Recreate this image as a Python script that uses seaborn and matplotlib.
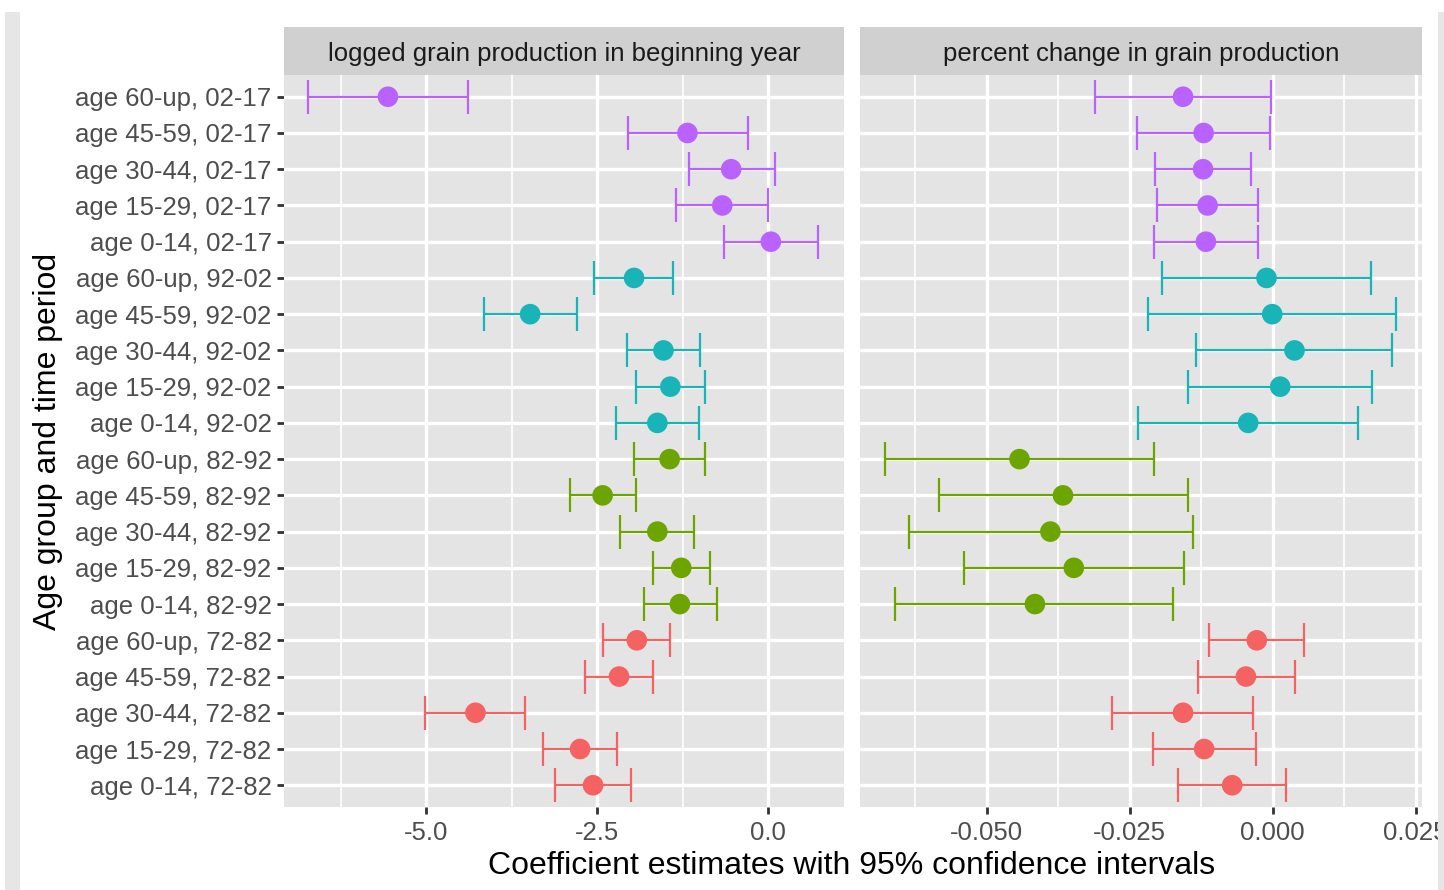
import numpy as np
import pandas as pd
import matplotlib
matplotlib.use("Agg")
import matplotlib.pyplot as plt
import seaborn as sns
from matplotlib.patches import Rectangle

# ---------------- data ----------------
ages = ["age 60-up", "age 45-59", "age 30-44", "age 15-29", "age 0-14"]
periods = ["02-17", "92-02", "82-92", "72-82"]  # top to bottom
labels = [f"{a}, {p}" for p in periods for a in ages]
period_of_row = [p for p in periods for a in ages]

# panel 1: logged grain production in beginning year
log_est = [-5.56, -1.18, -0.54, -0.67, 0.04,
           -1.96, -3.48, -1.53, -1.43, -1.62,
           -1.44, -2.42, -1.62, -1.27, -1.29,
           -1.92, -2.18, -4.28, -2.75, -2.56]
log_lo = [-6.73, -2.05, -1.16, -1.34, -0.64,
          -2.54, -4.16, -2.07, -1.93, -2.22,
          -1.96, -2.89, -2.17, -1.69, -1.82,
          -2.42, -2.68, -5.02, -3.29, -3.12]
log_hi = [-4.39, -0.30, 0.10, 0.00, 0.73,
          -1.39, -2.80, -0.99, -0.92, -1.01,
          -0.92, -1.93, -1.08, -0.85, -0.75,
          -1.43, -1.68, -3.55, -2.21, -2.01]

# panel 2: percent change in grain production
pct_est = [-0.0157, -0.0121, -0.0122, -0.0114, -0.0117,
           -0.0011, -0.0001, 0.0038, 0.0013, -0.0043,
           -0.0443, -0.0367, -0.0389, -0.0348, -0.0416,
           -0.0028, -0.0047, -0.0157, -0.0120, -0.0071]
pct_lo = [-0.0311, -0.0238, -0.0206, -0.0203, -0.0207,
          -0.0193, -0.0218, -0.0134, -0.0148, -0.0236,
          -0.0678, -0.0584, -0.0637, -0.0540, -0.0660,
          -0.0111, -0.0131, -0.0281, -0.0210, -0.0165]
pct_hi = [-0.0003, -0.0005, -0.0038, -0.0025, -0.0026,
          0.0172, 0.0216, 0.0209, 0.0174, 0.0149,
          -0.0208, -0.0149, -0.0139, -0.0156, -0.0174,
          0.0055, 0.0038, -0.0034, -0.0029, 0.0023]

panel_titles = ["logged grain production in beginning year",
                "percent change in grain production"]
xticks_left = [-5.0, -2.5, 0.0]
xticks_right = [-0.050, -0.025, 0.000, 0.025]
xtick_labels_left = ["-5.0", "-2.5", "0.0"]
xtick_labels_right = ["-0.050", "-0.025", "0.000", "0.025"]

palette = {"72-82": "#F46262", "82-92": "#6CA500",
           "92-02": "#18B4B8", "02-17": "#BA62FF"}

# ---------------- style ----------------
sns.set_theme(style="white")
plt.rcParams["font.family"] = ["Liberation Sans", "DejaVu Sans"]

W, H = 1444, 890
fig = plt.figure(figsize=(W / 100, H / 100), dpi=100)
fig.patch.set_facecolor("white")

def fx(px):
    return px / W

def fy(py):
    return 1 - py / H

# screenshot side band (left)
fig.patches.append(Rectangle((fx(5), 0), fx(15), fy(12), transform=fig.transFigure,
                             facecolor="#E6E6E6", edgecolor="none", zorder=0))

panel_top, panel_bot = 75, 807
strip_top = 27
panels = [(284, 844), (860, 1422)]
xlims = [(-7.08, 1.11), (-0.0722, 0.0261)]

n = len(labels)
ypos = np.arange(n)

datasets = [(log_est, log_lo, log_hi), (pct_est, pct_lo, pct_hi)]
xt = [(xticks_left, xtick_labels_left), (xticks_right, xtick_labels_right)]

for i, ((x0, x1), (est, lo, hi)) in enumerate(zip(panels, datasets)):
    ax = fig.add_axes([fx(x0), fy(panel_bot), fx(x1 - x0), (panel_bot - panel_top) / H])
    ax.set_facecolor("#E4E4E4")
    df = pd.DataFrame({"label": labels, "y": ypos, "est": est, "lo": lo, "hi": hi,
                       "period": period_of_row})
    for _, r in df.iterrows():
        ax.errorbar(r["est"], r["y"], xerr=[[r["est"] - r["lo"]], [r["hi"] - r["est"]]],
                    fmt="none", ecolor=palette[r["period"]], elinewidth=1.6,
                    capsize=12.5, capthick=1.6, zorder=3)
    sns.scatterplot(data=df, x="est", y="y", hue="period", palette=palette, s=220,
                    edgecolor="none", legend=False, ax=ax, zorder=4)
    ax.set_xlim(*xlims[i])
    ax.set_ylim(n - 0.4, -0.6)
    # grid
    major = xt[i][0]
    step = major[1] - major[0]
    minor = [m + step / 2 for m in [major[0] - step] + list(major)]
    for m in minor:
        if xlims[i][0] < m < xlims[i][1]:
            ax.axvline(m, color="white", lw=1.2, zorder=1)
    for m in major:
        ax.axvline(m, color="white", lw=2.4, zorder=1)
    for y in ypos:
        ax.axhline(y, color="white", lw=2.4, zorder=1)
    for s in ax.spines.values():
        s.set_visible(False)
    ax.set_xticks(major)
    ax.set_xticklabels(xt[i][1])
    ax.tick_params(axis="x", length=5, width=2, color="#333333", labelsize=18.5,
                   labelcolor="#4D4D4D", pad=5, bottom=True)
    ax.set_yticks(ypos)
    if i == 0:
        ax.set_yticklabels(labels)
        ax.tick_params(axis="y", length=5, width=2, color="#333333", labelsize=18.5,
                       labelcolor="#4D4D4D", pad=4, left=True)
    else:
        ax.set_yticklabels([])
        ax.tick_params(axis="y", length=0)
    ax.set_xlabel("")
    ax.set_ylabel("")
    ax.grid(False)
    # strip
    sax = fig.add_axes([fx(x0), fy(panel_top), fx(x1 - x0), (panel_top - strip_top) / H])
    sax.set_facecolor("#D0D0D0")
    sax.set_xticks([])
    sax.set_yticks([])
    for s in sax.spines.values():
        s.set_visible(False)
    sax.text(0.5, 0.44, panel_titles[i], ha="center", va="center", fontsize=18.5,
             color="#1A1A1A", transform=sax.transAxes)

fig.text(fx(852), fy(866), "Coefficient estimates with 95% confidence intervals",
         ha="center", va="center", fontsize=23, color="black")
fig.text(fx(48), fy(441), "Age group and time period", ha="center", va="center",
         rotation=90, fontsize=23, color="black")

# right screenshot band (drawn on top)
band = Rectangle((fx(1438), 0), fx(6), fy(12), transform=fig.transFigure,
                 facecolor="#E6E6E6", edgecolor="none", zorder=10)
fig.add_artist(band)

fig.savefig("out.png", dpi=100)
